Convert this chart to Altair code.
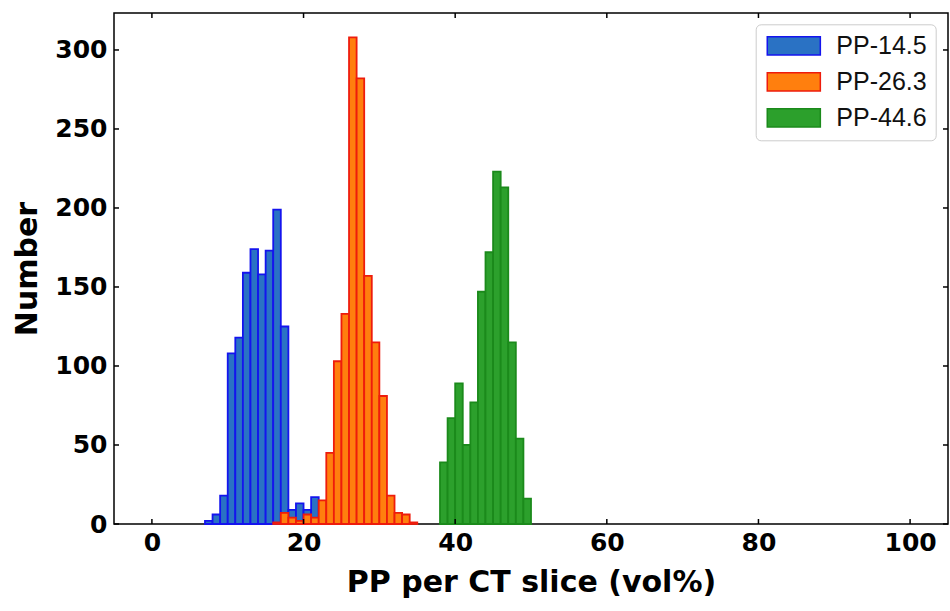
import altair as alt
import pandas as pd

# ---- data ----
series_names = ["PP-14.5", "PP-26.3", "PP-44.6"]
bin_width = 1

blue_start = 7
blue_counts = [2, 6, 18, 108, 118, 159, 174, 158, 173, 199, 125, 9, 13, 9, 17]

orange_start = 16
orange_counts = [1, 7, 4, 2, 6, 4, 15, 45, 103, 133, 308, 282, 157, 115, 81, 18, 7, 6, 1]

green_start = 38
green_counts = [39, 67, 89, 50, 77, 147, 172, 223, 213, 115, 54, 16]

x_ticks = [0, 20, 40, 60, 80, 100]
y_ticks = [0, 50, 100, 150, 200, 250, 300]

fill_colors = ["#2a72c4", "#ff7f0e", "#2ca02c"]
edge_colors = ["#1414ee", "#ee1c0c", "#1b8a1b"]

# ---- table ----
rows = []
for name, start, counts in zip(series_names,
                               [blue_start, orange_start, green_start],
                               [blue_counts, orange_counts, green_counts]):
    for i, c in enumerate(counts):
        rows.append({"series": name,
                     "x0": start + i * bin_width,
                     "x1": start + (i + 1) * bin_width,
                     "count": c})
df = pd.DataFrame(rows)

W, H = 834, 511
xs = alt.Scale(domain=[-5, 105], nice=False, zero=False)
ys = alt.Scale(domain=[0, 323.4], nice=False, zero=False)

x_axis = alt.Axis(values=x_ticks, title="PP per CT slice (vol%)",
                  labelPadding=6, titlePadding=12)
y_axis = alt.Axis(values=y_ticks, title="Number",
                  labelPadding=7, titlePadding=12)

leg = alt.Legend(
    title=None, orient="none", legendX=641.7, legendY=11.3,
    symbolType="M-2.9,-1H2.9V1H-2.9Z", symbolSize=335, symbolStrokeWidth=1.5,
    symbolOffset=16.6,
    labelFont="Liberation Sans", labelFontSize=25, labelColor="#111111",
    labelOffset=30, padding=9, strokeColor="#cccccc", cornerRadius=5,
    fillColor="white", rowPadding=10,
)

bars = alt.Chart(df).mark_rect(strokeWidth=1.8).encode(
    x=alt.X("x0:Q", scale=xs, axis=x_axis),
    x2="x1:Q",
    y=alt.Y("count:Q", scale=ys, axis=y_axis),
    y2=alt.datum(0),
    fill=alt.Fill("series:N", scale=alt.Scale(domain=series_names, range=fill_colors), legend=leg),
    stroke=alt.Stroke("series:N", scale=alt.Scale(domain=series_names, range=edge_colors), legend=leg),
)

xt = pd.DataFrame({"v": x_ticks})
yt = pd.DataFrame({"v": y_ticks})
tick_len = 5

bottom_ticks = alt.Chart(xt).mark_rule(color="black", strokeWidth=1.5).encode(
    x=alt.X("v:Q", scale=xs, axis=x_axis), y=alt.value(H), y2=alt.value(H - tick_len))
top_ticks = alt.Chart(xt).mark_rule(color="black", strokeWidth=1.5).encode(
    x=alt.X("v:Q", scale=xs, axis=x_axis), y=alt.value(0), y2=alt.value(tick_len))
left_ticks = alt.Chart(yt).mark_rule(color="black", strokeWidth=1.5).encode(
    y=alt.Y("v:Q", scale=ys, axis=y_axis), x=alt.value(0), x2=alt.value(tick_len))
right_ticks = alt.Chart(yt).mark_rule(color="black", strokeWidth=1.5).encode(
    y=alt.Y("v:Q", scale=ys, axis=y_axis), x=alt.value(W), x2=alt.value(W - tick_len))

chart = alt.layer(bars, bottom_ticks, top_ticks, left_ticks, right_ticks).properties(
    width=W, height=H,
    padding={"left": 114, "top": 13, "right": 2, "bottom": 87},
    autosize=alt.AutoSizeParams(type="none"),
    background="white",
).configure_view(
    stroke="black", strokeWidth=1.5
).configure_axis(
    domain=False, ticks=False, grid=False,
    labelFont="DejaVu Sans", labelFontWeight="bold", labelFontSize=25, labelColor="black",
    titleFont="DejaVu Sans", titleFontWeight="bold", titleFontSize=30, titleColor="black",
)

chart.save("out.html", embed_options={"renderer": "svg", "actions": False})
